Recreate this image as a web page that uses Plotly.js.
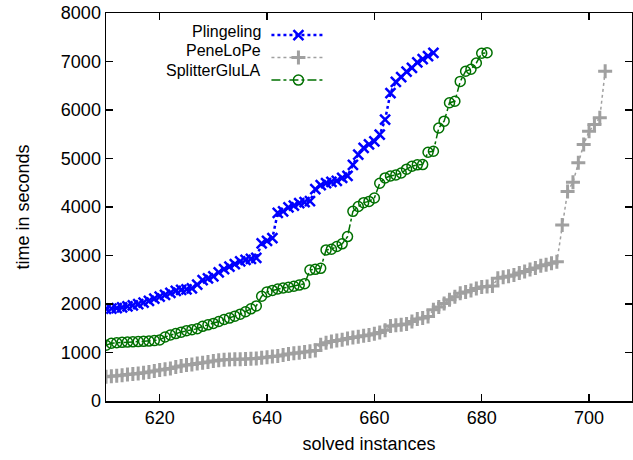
<!DOCTYPE html>
<html><head><meta charset="utf-8">
<script src="https://cdn.plot.ly/plotly-3.0.1.min.js"></script>
<style>html,body{margin:0;padding:0;background:#fff}#chart{width:633px;height:460px}</style>
</head><body><div id="chart"></div>
<script>
// solved-instance index where each visible series starts
const plingelingStart = 610;
const penelopeStart = 610;
const splitterStart = 610;

// time in seconds for each solved instance (sorted, cactus plot)
const plingelingTimes = [
 1900,1905,1915,1930,1950,1970,1995,2030,2065,2110,
 2150,2190,2230,2270,2290,2300,2320,2400,2490,2530,
 2570,2650,2720,2770,2820,2880,2910,2930,2950,3250,
 3300,3360,3880,3910,3990,4030,4080,4100,4120,4370,
 4450,4490,4520,4540,4600,4640,4870,5080,5220,5290,
 5355,5490,5800,6350,6580,6680,6790,6870,6980,7050,
 7110,7180];
const penelopeTimes = [
 500,510,520,530,545,555,565,580,600,620,
 640,655,670,700,720,740,755,775,790,805,
 825,840,850,855,860,862,868,872,878,890,
 900,915,930,950,970,985,995,1010,1025,1040,
 1160,1200,1225,1245,1265,1290,1310,1325,1345,1360,
 1385,1410,1460,1545,1560,1570,1590,1640,1690,1710,
 1740,1880,1940,2010,2090,2150,2220,2250,2280,2320,
 2350,2360,2370,2530,2550,2570,2600,2640,2670,2710,
 2740,2790,2810,2840,2870,3630,4320,4510,4910,5290,
 5560,5700,5840,6800];
const splitterTimes = [
 1150,1190,1200,1210,1215,1220,1225,1230,1235,1245,
 1260,1320,1360,1390,1420,1450,1470,1490,1540,1570,
 1600,1640,1680,1710,1750,1790,1840,1900,1960,2160,
 2250,2280,2310,2330,2345,2365,2390,2420,2700,2715,
 2735,3115,3130,3185,3240,3390,3910,4010,4090,4115,
 4185,4490,4600,4640,4660,4700,4780,4840,4870,4875,
 5130,5150,5630,5770,6150,6180,6590,6800,6840,6970,7170,7180];

const seriesNames = ["Plingeling", "PeneLoPe", "SplitterGluLA"];
const xTickVals = [620, 640, 660, 680, 700];
const yTickVals = [0,1000,2000,3000,4000,5000,6000,7000,8000];

function idx(start, arr){ return arr.map((_, i) => start + i); }

const FONT = "Liberation Sans, Arial, sans-serif";
const blue = "#0000ff", gray = "#a0a0a0", green = "#007000";

const traces = [
 {x: idx(plingelingStart, plingelingTimes), y: plingelingTimes, name: "", type: "scatter", mode: "lines+markers",
  line: {color: blue, width: 2.5, dash: "dot"},
  marker: {symbol: "x-thin-open", size: 10, color: blue, line: {width: 2.5, color: blue}}},
 {x: idx(penelopeStart, penelopeTimes), y: penelopeTimes, name: "", type: "scatter", mode: "lines+markers",
  line: {color: gray, width: 1.5, dash: "dot"},
  marker: {symbol: "cross-thin-open", size: 10, color: gray, line: {width: 3, color: gray}}},
 {x: idx(splitterStart, splitterTimes), y: splitterTimes, name: "", type: "scatter", mode: "lines+markers",
  line: {color: green, width: 1.5, dash: "dashdot"},
  marker: {symbol: "circle-open", size: 10, color: green, line: {width: 1.5, color: green}}}
];

const legendY = [0.953, 0.903, 0.853];
const annotations = seriesNames.map((n, i) => ({
 text: n, xref: "paper", yref: "paper", x: 0.298, y: legendY[i], xanchor: "right", yanchor: "middle",
 showarrow: false, font: {family: FONT, size: 16, color: "#000"}
}));

const axisCommon = {
 showgrid: false, zeroline: false, showline: true, linecolor: "#000", linewidth: 1.5,
 mirror: "ticks", ticks: "inside", ticklen: 7, tickwidth: 1.2, tickcolor: "#000",
 tickfont: {family: FONT, size: 18, color: "#000"}
};

const layout = {
 width: 633, height: 460,
 margin: {l: 106, r: 1, t: 13, b: 59},
 paper_bgcolor: "#fff", plot_bgcolor: "#fff",
 showlegend: true,
 legend: {x: 0.305, y: 0.985, xanchor: "left", yanchor: "top", bgcolor: "rgba(0,0,0,0)",
   font: {family: FONT, size: 15}, tracegroupgap: 0, itemwidth: 54},
 xaxis: Object.assign({}, axisCommon, {range: [610, 708], tickvals: xTickVals, ticktext: xTickVals.map(String),
   title: {text: "solved instances", font: {family: FONT, size: 18, color: "#000"}, standoff: 10}}),
 yaxis: Object.assign({}, axisCommon, {range: [0, 8000], tickvals: yTickVals, ticktext: yTickVals.map(String),
   title: {text: "time in seconds", font: {family: FONT, size: 18, color: "#000"}, standoff: 26}}),
 annotations: annotations
};

Plotly.newPlot("chart", traces, layout, {displayModeBar: false, staticPlot: true});
</script></body></html>
